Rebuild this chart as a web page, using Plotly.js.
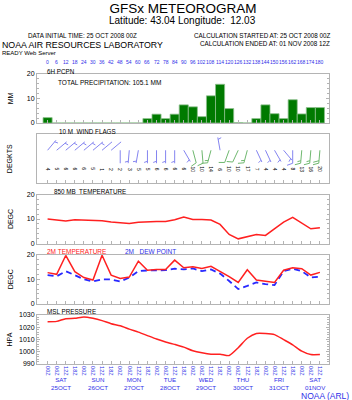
<!DOCTYPE html>
<html><head><meta charset="utf-8">
<script src="https://cdn.plot.ly/plotly-3.0.1.min.js"></script>
<style>html,body{margin:0;padding:0;background:#fff;overflow:hidden}</style>
</head><body><div id="chart" style="width:352px;height:400px"></div>
<script>
// ---------------- data ----------------
const hours = [0,6,12,18,24,30,36,42,48,54,60,66,72,78,84,90,96,102,108,114,120,126,132,138,144,150,156,162,168,174,180];
const hourLabels = ["0","6","12","18","24","30","36","42","48","54","60","66","72","78","84","90","96","102","108","114","120","126","132","138","144","150","156","162","168","174","180"];
const timeLabels = ["00Z","06Z","12Z","18Z","00Z","06Z","12Z","18Z","00Z","06Z","12Z","18Z","00Z","06Z","12Z","18Z","00Z","06Z","12Z","18Z","00Z","06Z","12Z","18Z","00Z","06Z","12Z","18Z","00Z","06Z","12Z"];
const precip6h = [2.2,0,0,0,0,0,0,0,0,0,0,1.8,3.6,1.8,3.6,7.4,6.6,2.6,11.1,15.8,5.9,0.1,0,1.8,7.4,3.8,1.8,9.5,3.7,6.3,6.3];
const totalPrecip = "105.1";
const windDir = [40,50,50,50,50,50,50,50,180,185,190,180,180,180,180,150,165,175,195,350,200,205,195,155,155,150,140,180,185,185,185];
const windSpd = [4,5,6,6,6,5,1,2,2,3,5,5,6,6,6,6,10,10,14,6,10,10,17,7,4,4,4,8,13,16,20];
const temp850 = [10.0,9.6,9.2,9.7,9.6,9.2,9.3,8.8,8.5,8.2,8.7,9.0,9.0,9.0,9.7,10.8,9.8,9.8,9.6,7.8,3.7,1.9,2.9,3.7,3.3,5.9,8.7,10.7,8.4,6.0,6.4];
const temp2m = [12.7,12.0,19.7,13.1,10.7,9.7,19.8,11.7,10.3,10.9,17.4,13.7,14.0,14.0,17.8,14.7,15.1,14.4,15.3,13.3,11.1,8.7,13.9,9.7,9.1,8.7,13.7,14.7,14.3,11.7,12.8];
const dewPoint = [11.7,11.2,13.3,11.7,10.0,9.1,10.0,9.9,9.1,10.7,13.3,13.6,13.7,13.7,14.3,14.0,14.4,13.3,14.0,12.3,9.3,6.0,7.3,8.7,8.0,7.6,13.3,14.3,13.3,10.7,11.1];
const mslp = [1024.5,1024.8,1027.0,1027.3,1028.4,1027.3,1025.4,1022.9,1021.2,1018.5,1016.0,1013.2,1010.4,1008.0,1006.0,1003.8,1000.8,999.1,998.0,998.0,996.9,1003.3,1011.0,1014.9,1014.9,1014.0,1009.9,1005.7,1000.5,997.7,997.7];
const dayHours = [9,33,57,81,105,129,153,177];
const dayLabels = ["SAT<br>25OCT","SUN<br>26OCT","MON<br>27OCT","TUE<br>28OCT","WED<br>29OCT","THU<br>30OCT","FRI<br>31OCT","SAT<br>01NOV"];

// ---------------- layout helpers ----------------
const W = 352, H = 400, ML = 37, MR = 23, MT = 74, MB = 36;
const PW = W - ML - MR, PH = H - MT - MB;
const XR = [-7, 186];
const hPerPx = (XR[1] - XR[0]) / PW;
const PANEL = 49, STEP = 60.25;
function dom(k) { const top = 1 - STEP * k / PH; return [top - PANEL / PH, top]; }
function py(px) { return (H - MB - px) / PH; }
function pxX(px) { return (px - ML) / PW; }
const FONT = "Liberation Sans, Arial, Helvetica, sans-serif";
const BLUE = "#2f2fe8", FRAME = "#b4b4b4";

// ---------------- wind barbs ----------------
const barbBlue = {x: [], y: []}, barbGreen = {x: [], y: []};
const STATION_Y = 33, STAFF = 13;
hours.forEach((h, i) => {
  const out = windSpd[i] >= 10 ? barbGreen : barbBlue;
  const r = windDir[i] * Math.PI / 180;
  const ux = Math.sin(r), uy = Math.cos(r);
  const pxv = uy, pyv = -ux;
  const X = dx => h + dx * hPerPx;
  out.x.push(X(0), X(STAFF * ux), null);
  out.y.push(STATION_Y, STATION_Y + STAFF * uy, null);
  let rem = Math.round(windSpd[i] / 5) * 5;
  let d = STAFF;
  while (rem >= 10) {
    const bx = d * ux, by = STATION_Y + d * uy;
    out.x.push(X(bx), X(bx + 6 * (0.94 * pxv + 0.34 * ux)), null);
    out.y.push(by, by + 6 * (0.94 * pyv + 0.34 * uy), null);
    rem -= 10; d -= 2.5;
  }
  if (rem >= 5) {
    if (d === STAFF) d -= 2;
    const bx = d * ux, by = STATION_Y + d * uy;
    out.x.push(X(bx), X(bx + 3.5 * (0.94 * pxv + 0.34 * ux)), null);
    out.y.push(by, by + 3.5 * (0.94 * pyv + 0.34 * uy), null);
  }
});

// ---------------- traces ----------------
const traces = [
  {type: "bar", x: hours, y: precip6h, width: 6, xaxis: "x", yaxis: "y",
   marker: {color: "#007a00", line: {color: "#8cbf8c", width: 0.8}}, hoverinfo: "skip"},
  {type: "scatter", mode: "lines", x: barbBlue.x, y: barbBlue.y, xaxis: "x2", yaxis: "y2",
   line: {color: "#8484f0", width: 1}, hoverinfo: "skip"},
  {type: "scatter", mode: "lines", x: barbGreen.x, y: barbGreen.y, xaxis: "x2", yaxis: "y2",
   line: {color: "#6fb86f", width: 1}, hoverinfo: "skip"},
  {type: "scatter", mode: "lines", x: hours, y: temp850, xaxis: "x3", yaxis: "y3",
   line: {color: "#ff2020", width: 1.5}, hoverinfo: "skip"},
  {type: "scatter", mode: "lines", x: hours, y: dewPoint, xaxis: "x4", yaxis: "y4",
   line: {color: "#2828ff", width: 1.8, dash: "6px,4px"}, hoverinfo: "skip"},
  {type: "scatter", mode: "lines", x: hours, y: temp2m, xaxis: "x4", yaxis: "y4",
   line: {color: "#ff2020", width: 1.5}, hoverinfo: "skip"},
  {type: "scatter", mode: "lines", x: hours, y: mslp, xaxis: "x5", yaxis: "y5",
   line: {color: "#ff2020", width: 1.5, shape: "spline", smoothing: 0.6}, hoverinfo: "skip"}
];

// ---------------- axes ----------------
const layout = {
  width: W, height: H, showlegend: false,
  margin: {l: ML, r: MR, t: MT, b: MB, pad: 0},
  paper_bgcolor: "#fff", plot_bgcolor: "#fff",
  font: {family: FONT, size: 7, color: "#000"},
  title: {text: "GFSx METEOROGRAM", x: 0.52, xanchor: "center", y: 1 - 8 / H, yanchor: "middle",
          font: {family: FONT, size: 13.5, color: "#000"}},
  annotations: [], bargap: 0
};
const ynames = ["yaxis", "yaxis2", "yaxis3", "yaxis4", "yaxis5"];
const xnames = ["xaxis", "xaxis2", "xaxis3", "xaxis4", "xaxis5"];
const yRanges = [[0, 20], [0, 49], [0, 20], [0, 20], [990, 1030]];
const yTicks = [[0, 10, 20], [], [0, 10, 20], [0, 10, 20], [990, 1000, 1010, 1020, 1030]];
const yTitles = ["MM", "DEGKTS", "DEGC", "DEGC", "HPA"];
const yMinor = [2, null, 2, 2, 2];
const yStand = [12, 22, 12, 12, 5];
for (let k = 0; k < 5; k++) {
  const xa = {
    domain: [0, 1], range: XR, anchor: k === 0 ? "y" : "y" + (k + 1),
    tickvals: hours, ticks: "inside", ticklen: 3, tickcolor: FRAME, tickwidth: 1,
    showline: true, linecolor: FRAME, linewidth: 1, mirror: true,
    showgrid: false, zeroline: false, showticklabels: false, fixedrange: true
  };
  if (k === 4) {
    xa.showticklabels = true; xa.ticktext = timeLabels; xa.tickangle = 90;
    xa.tickfont = {family: FONT, size: 5.5, color: BLUE};
  }
  if (k > 0) xa.matches = "x";
  layout[xnames[k]] = xa;
  const ya = {
    domain: dom(k), range: yRanges[k], anchor: k === 0 ? "x" : "x" + (k + 1),
    tickvals: yTicks[k], ticks: k === 1 ? "" : "inside", ticklen: 3, tickcolor: FRAME,
    showline: true, linecolor: FRAME, linewidth: 1, mirror: k === 1 ? true : "ticks",
    showgrid: false, zeroline: false, showticklabels: k !== 1, fixedrange: true,
    tickfont: {family: FONT, size: 7, color: "#000"},
    title: {text: yTitles[k], standoff: yStand[k], font: {family: FONT, size: 7, color: "#000"}}
  };
  if (yMinor[k]) ya.minor = {ticks: "inside", ticklen: 2, dtick: yMinor[k], tickcolor: FRAME};
  layout[ynames[k]] = ya;
}

// ---------------- texts ----------------
const A = layout.annotations;
function txt(text, xpx, ypx, anchor, size, color) {
  A.push({text: text, xref: "paper", yref: "paper", x: pxX(xpx), y: py(ypx), xanchor: anchor,
          yanchor: "middle", showarrow: false, font: {family: FONT, size: size, color: color || "#000"}});
}
txt("Latitude: 43.04 Longitude:  12.03", 182, 20.5, "center", 10);
txt("DATA INITIAL TIME: 25 OCT 2008 00Z", 25.5, 35.5, "left", 6.3);
txt("CALCULATION STARTED AT: 25 OCT 2008 00Z", 331.5, 35.5, "right", 6.3);
txt("CALCULATION ENDED AT: 01 NOV 2008 12Z", 331.5, 43.3, "right", 6.3);
txt("NOAA AIR RESOURCES LABORATORY", 0, 45, "left", 8.8);
txt("READY Web Server", 0, 53, "left", 6);
txt("6H PCPN", 45, 71.7, "left", 6.3);
txt("TOTAL PRECIPITATION: " + totalPrecip + " MM", 56, 82.7, "left", 6.5);
txt("10 M  WIND FLAGS", 56.5, 131, "left", 6.3);
txt("850 MB  TEMPERATURE", 51.5, 191, "left", 6.3);
txt("2M TEMPERATURE", 45, 251.7, "left", 6.5, "#ff2020");
txt("2M   DEW POINT", 123, 251.7, "left", 6.5, BLUE);
txt("MSL PRESSURE", 45, 311.7, "left", 6.3);
txt("NOAA (ARL)", 351, 395.5, "right", 8.5, BLUE);
hours.forEach((h, i) => {
  A.push({text: hourLabels[i], xref: "x", yref: "paper", x: h, y: py(61.7), xanchor: "center", yanchor: "middle",
          showarrow: false, font: {family: FONT, size: 5, color: BLUE}});
  A.push({text: String(windSpd[i]), xref: "x2", yref: "y2", x: h, y: 14, textangle: 90, xanchor: "center", yanchor: "middle",
          showarrow: false, font: {family: FONT, size: 5, color: "#000"}});
});
dayHours.forEach((h, i) => {
  A.push({text: dayLabels[i], xref: "x5", yref: "paper", x: h, y: py(383.5), xanchor: "center", yanchor: "middle",
          showarrow: false, font: {family: FONT, size: 6.2, color: BLUE}});
});

Plotly.newPlot("chart", traces, layout, {staticPlot: true, displayModeBar: false});
</script>
</body></html>
